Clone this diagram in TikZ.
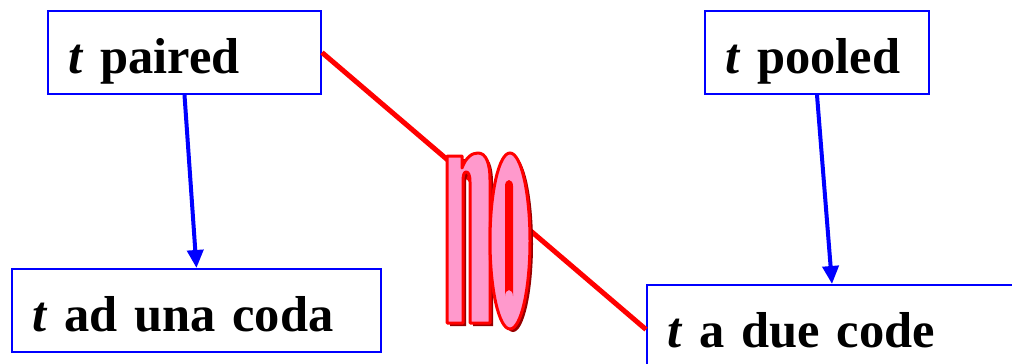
\documentclass[tikz,border=0pt]{standalone}
\usepackage{fontspec}
\setmainfont{Liberation Serif}
\usetikzlibrary{arrows.meta, positioning}

\definecolor{wordpink}{RGB}{255,153,204}
\definecolor{wordshadow}{RGB}{150,0,0}

\begin{document}
\begin{tikzpicture}[x=1pt, y=-1pt,
    box/.style={draw=blue, line width=2pt, anchor=north west, align=left,
      inner xsep=20pt, inner ysep=7pt, text height=55pt, text depth=14pt,
      font=\fontsize{50.5}{60}\selectfont\bfseries},
    link/.style={draw=blue, line width=4pt, -{Triangle[length=18pt, width=16pt]}},
    nope/.style={draw=red, line width=5pt}
  ]

\useasboundingbox (0,0) rectangle (1012,364);
\clip (0,0) rectangle (1012,364);

% the four tests
\node[box, text width=233pt] (paired) at (47,10) {\textit{t} paired};
\node[box, text width=184pt] (pooled) at (704,10) {\textit{t} pooled};
\node[box, text width=329pt] (onetail) at (11,268) {\textit{t} ad una coda};
\node[box, text width=330pt, text depth=20pt] (twotail) at (646,284) {\textit{t} a due code};

\draw[link] (paired.south) -- (onetail.north);
\draw[link] (pooled.south) -- (twotail.north);

\draw[nope] (paired.east) -- (twotail.west);

% the word "no", drawn as shapes
\def\nshape{(447,323) -- (447,156) -- (462,156) -- (462,168)
    .. controls (466,157) and (472,153) .. (478,153)
    .. controls (486,153) and (490,163) .. (490,180) -- (490,323)
    -- (470,323) -- (470,182) .. controls (470,174) and (468,172) .. (466,172)
    .. controls (464,172) and (463,175) .. (463,182) -- (463,323) -- cycle}
\def\oshape{(510,241) ellipse [x radius=20, y radius=88]}
\def\oslot{(505,186) -- (505,296) arc[start angle=180, end angle=0, x radius=4, y radius=-6]
    -- (513,186) arc[start angle=0, end angle=180, x radius=4, y radius=-6] -- cycle}

\begin{scope}[shift={(3,3)}]
  \fill[wordshadow] \nshape;
  \fill[wordshadow] \oshape;
\end{scope}
\filldraw[fill=wordpink, draw=red, line width=3pt, line join=round] \nshape;
\filldraw[fill=wordpink, draw=red, line width=3pt] \oshape;
\fill[red] \oslot;

\end{tikzpicture}
\end{document}
